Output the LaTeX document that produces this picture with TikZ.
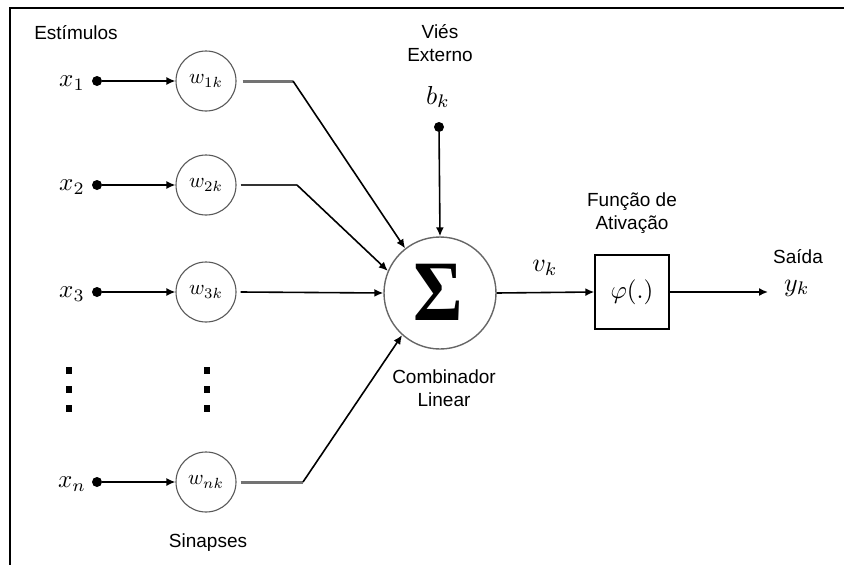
\documentclass[tikz,border=0pt]{standalone}
\usepackage{fontspec}
\setmainfont{Liberation Sans}
\newfontfamily\sigfont{Liberation Serif}
\usetikzlibrary{arrows.meta}
\newcommand{\mymath}[2][2.5]{\scalebox{#1}{$#2$}}
\begin{document}
\begin{tikzpicture}[x=1pt,y=-1pt,
  lbl/.style={font=\fontsize{19}{23}\selectfont, inner sep=0pt, align=center},
  mlbl/.style={inner sep=0pt},
  wnode/.style={circle, draw=black!65, line width=1.1pt, minimum size=60pt, inner sep=0pt},
  dotnode/.style={circle, fill=black, minimum size=10pt, inner sep=0pt},
  arr/.style={line width=1.6pt, -{Latex[length=9pt,width=8pt]}},
  grayseg/.style={line width=3pt, black!55},
  darkseg/.style={line width=1.6pt, black!80},
  vdots/.style={line width=6pt, dash pattern=on 7pt off 12pt}
]
\useasboundingbox (0,0) rectangle (844,565);
\draw[line width=1.5pt] (10,565) -- (10,8) -- (844,8);

\node[lbl] (est) at (76,33) {Estímulos};

% inputs
\foreach \i/\y/\lab in {1/81/{x_1},2/185/{x_2},3/292/{x_3},n/482/{x_n}}{
  \node[mlbl] (lx\i) at (72,\y+2) {\mymath{\lab}};
  \node[dotnode] (d\i) at (97,\y) {};
  \node[wnode] (w\i) at (206,\y) {\mymath[2.1]{w_{\i k}}};
  \draw[arr] (d\i) -- (w\i);
}

% vertical dots
\draw[vdots] (69,367) -- (69,412);
\draw[vdots] (207,367) -- (207,412);

% summing junction
\node[circle, draw=black!60, line width=1.4pt, minimum size=112pt, inner sep=0pt] (sum) at (440,293) {};
\node[inner sep=0pt, font=\sigfont\bfseries\fontsize{86}{90}\selectfont] (sig) at (438,292) {\scalebox{0.88}[1]{Σ}};

% synapse outputs
\coordinate (k1) at (293,81);
\coordinate (k2) at (297,185);
\coordinate (kn) at (303,482);
\draw[grayseg] (w1.east) ++(6,0) -- (k1);
\draw[darkseg] (w2.east) ++(4,0) -- (k2);
\draw[grayseg] (wn.east) ++(4,0) -- (kn);
\draw[arr] (k1) -- (sum.128);
\draw[arr] (k2) -- (sum.157);
\draw[arr] (w3.east) ++(4,0) -- (sum.west);
\draw[arr] (kn) -- (sum.228);

% bias
\node[lbl] (vies) at (440,43) {Viés\\Externo};
\node[mlbl] (bk) at (438,97) {\mymath[2.6]{b_k}};
\node[dotnode] (db) at (439,127) {};
\draw[arr] (db) -- (sum.north);

\node[lbl] (comb) at (444,388) {Combinador\\Linear};

% activation
\node[draw, line width=1.4pt, minimum width=74pt, minimum height=74pt, inner sep=0pt] (phi) at (632,292) {\mymath[2.5]{\varphi(.)}};
\node[lbl] (fa) at (632,213) {Função de\\Ativação};
\node[mlbl] (vk) at (545,268) {\mymath[2.6]{v_k}};
\draw[arr] (sum.east) -- (phi.west);

\coordinate (yout) at (768,292);
\draw[arr] (phi.east) -- (yout);
\node[lbl] (said) at (798,257) {Saída};
\node[mlbl] (yk) at (797,288) {\mymath[2.6]{y_k}};

\node[lbl] (sin) at (208,543) {Sinapses};
\end{tikzpicture}
\end{document}
